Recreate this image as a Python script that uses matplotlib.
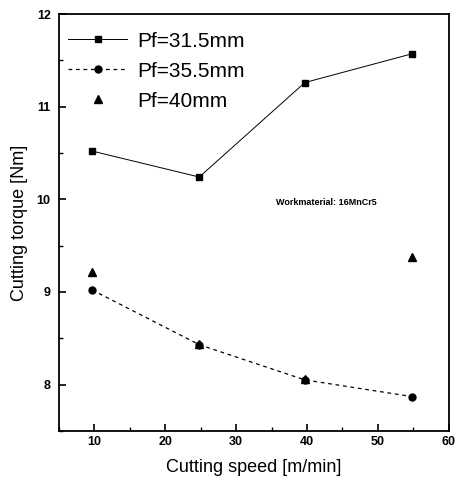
import matplotlib

matplotlib.use("Agg")
import matplotlib.pyplot as plt
from matplotlib.ticker import MultipleLocator

plt.rcParams["font.family"] = ["Liberation Sans", "DejaVu Sans"]

# values
speed = [9.7, 24.8, 39.7, 54.8]
torque_315 = [10.52, 10.24, 11.26, 11.57]
torque_355 = [9.02, 8.43, 8.05, 7.87]
torque_40 = [9.22, 8.44, 8.06, 9.38]

labels = ["Pf=31.5mm", "Pf=35.5mm", "Pf=40mm"]
x_ticks = [10, 20, 30, 40, 50, 60]
y_ticks = [8, 9, 10, 11, 12]


def main() -> None:
    fig = plt.figure(figsize=(4.59, 4.83), dpi=100)
    ax = fig.add_axes([0.1285, 0.108, 0.849, 0.863])

    ax.plot(speed, torque_315, color="black", lw=0.7, marker="s", ms=4.3, label=labels[0])
    ax.plot(speed, torque_355, color="black", lw=0.9, ls=(0, (3, 3)), marker="o", ms=5, label=labels[1])
    ax.plot(speed, torque_40, color="black", lw=0, marker="^", ms=6, label=labels[2])

    ax.set_xlim(5, 60)
    ax.set_ylim(7.5, 12)
    ax.set_xticks(x_ticks)
    ax.set_yticks(y_ticks)
    ax.xaxis.set_minor_locator(MultipleLocator(5))
    ax.yaxis.set_minor_locator(MultipleLocator(0.5))
    ax.tick_params(which="both", direction="in", top=False, right=False, labelsize=9)
    ax.tick_params(which="major", length=5, width=1.2)
    ax.tick_params(which="minor", length=3, width=1)
    ax.tick_params(axis="y", which="major", pad=6)
    for lab in ax.get_xticklabels() + ax.get_yticklabels():
        lab.set_fontweight("bold")
    for spine in ax.spines.values():
        spine.set_linewidth(1.3)

    ax.set_xlabel("Cutting speed [m/min]", fontsize=13, labelpad=8)
    ax.set_ylabel("Cutting torque [Nm]", fontsize=13, labelpad=6)

    ax.text(35.7, 9.97, "Workmaterial: 16MnCr5", fontsize=6.5, fontweight="bold", va="center")

    ax.legend(loc="upper left", bbox_to_anchor=(0.002, 0.978), frameon=False, fontsize=15,
              handlelength=2.84, handletextpad=0.48, borderaxespad=0, borderpad=0.4,
              labelspacing=0.53)

    fig.savefig("out.png", dpi=100)
    plt.close(fig)


if __name__ == "__main__":
    main()
